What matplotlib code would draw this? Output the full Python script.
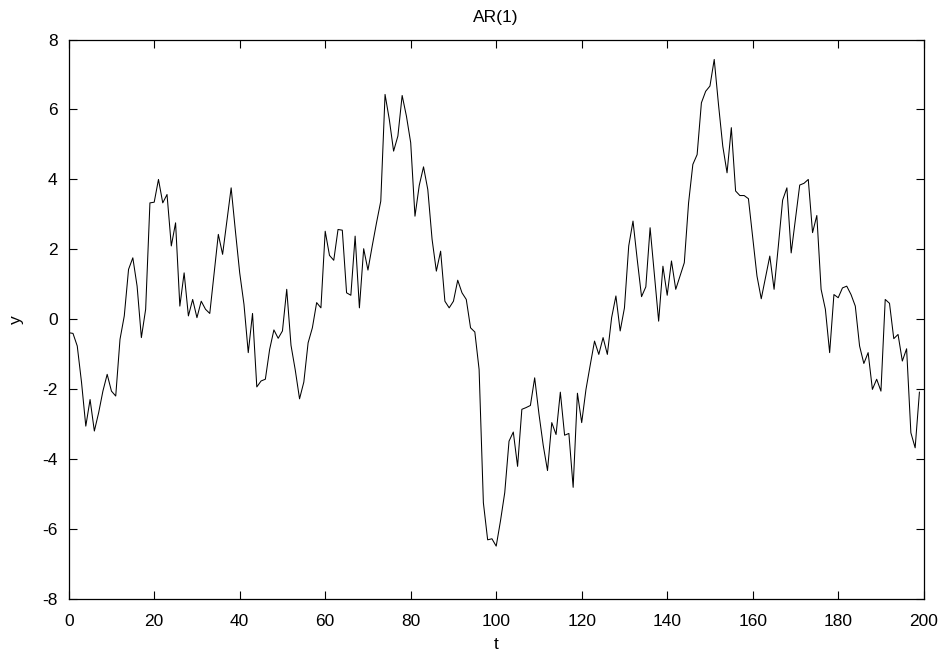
import matplotlib
matplotlib.use("Agg")
import matplotlib.pyplot as plt
import numpy as np

t = np.arange(200)
y = [
    -0.38, -0.40, -0.76, -1.80, -3.05, -2.29, -3.19, -2.67, -2.05, -1.57,
    -2.05, -2.19, -0.57, 0.10, 1.43, 1.76, 0.95, -0.52, 0.29, 3.33,
    3.35, 4.00, 3.33, 3.57, 2.10, 2.76, 0.38, 1.33, 0.10, 0.57,
    0.05, 0.52, 0.29, 0.17, 1.30, 2.43, 1.86, 2.81, 3.76, 2.52,
    1.33, 0.43, -0.95, 0.17, -1.93, -1.76, -1.71, -0.86, -0.30, -0.54,
    -0.33, 0.86, -0.74, -1.45, -2.27, -1.79, -0.67, -0.24, 0.48, 0.33,
    2.52, 1.83, 1.69, 2.57, 2.55, 0.76, 0.69, 2.38, 0.33, 2.02,
    1.41, 2.10, 2.76, 3.38, 6.43, 5.71, 4.81, 5.24, 6.40, 5.81,
    5.05, 2.95, 3.83, 4.36, 3.71, 2.29, 1.38, 1.95, 0.52, 0.33,
    0.52, 1.12, 0.76, 0.57, -0.24, -0.36, -1.43, -5.24, -6.30, -6.27,
    -6.48, -5.76, -4.95, -3.48, -3.22, -4.20, -2.57, -2.52, -2.46, -1.67,
    -2.70, -3.60, -4.32, -2.95, -3.29, -2.08, -3.31, -3.26, -4.80, -2.11,
    -2.95, -2.00, -1.30, -0.62, -1.00, -0.52, -1.00, 0.05, 0.67, -0.33,
    0.33, 2.10, 2.81, 1.70, 0.65, 0.93, 2.62, 1.30, -0.05, 1.52,
    0.69, 1.67, 0.86, 1.24, 1.62, 3.33, 4.43, 4.71, 6.19, 6.52,
    6.67, 7.43, 6.14, 4.95, 4.19, 5.48, 3.67, 3.54, 3.54, 3.45,
    2.35, 1.24, 0.59, 1.20, 1.81, 0.86, 2.10, 3.41, 3.76, 1.90,
    2.87, 3.84, 3.89, 4.00, 2.48, 2.97, 0.86, 0.29, -0.95, 0.71,
    0.62, 0.90, 0.95, 0.71, 0.38, -0.76, -1.26, -0.95, -2.00, -1.71,
    -2.05, 0.57, 0.46, -0.55, -0.43, -1.19, -0.84, -3.24, -3.67, -2.08,
]

xticks = list(range(0, 201, 20))
yticks = list(range(-8, 9, 2))

plt.rcParams['font.family'] = ['Liberation Sans', 'DejaVu Sans']
plt.rcParams['axes.unicode_minus'] = False

fig = plt.figure(figsize=(9.45, 6.59), dpi=100)
ax = fig.add_axes([68.7 / 945, 1 - 599.3 / 659, (923.7 - 68.7) / 945, (599.3 - 39.5) / 659])
ax.plot(t, y, color='black', linewidth=0.75)
ax.set_xlim(0, 200)
ax.set_ylim(-8, 8)
ax.set_xticks(xticks)
ax.set_yticks(yticks)
ax.set_xticklabels([str(v) for v in xticks])
ax.set_yticklabels([str(v) for v in yticks])
ax.tick_params(direction='in', length=5.8, width=0.8, top=True, right=True,
               labelsize=12.5)
ax.tick_params(axis='x', pad=10.5)
ax.tick_params(axis='y', pad=8)
for s in ax.spines.values():
    s.set_linewidth(0.9)
ax.set_title('AR(1)', fontsize=12.5, pad=12.5)
ax.set_xlabel('t', fontsize=12.5, labelpad=6)
ax.set_ylabel('y', fontsize=12.5, labelpad=13)
fig.savefig('out.png', dpi=100)
